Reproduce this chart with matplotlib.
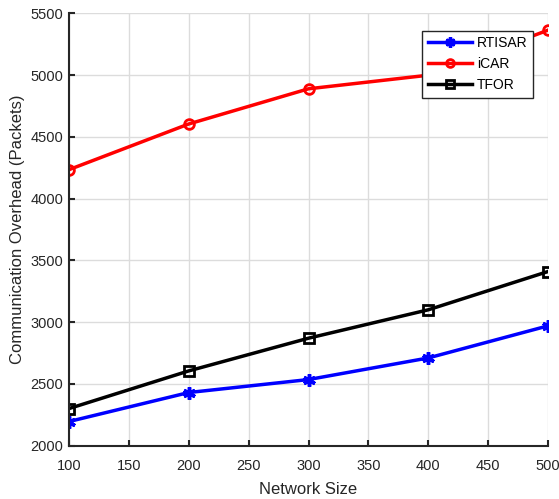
import matplotlib
matplotlib.use("Agg")
import matplotlib.pyplot as plt

# network sizes and overhead
network_size = [100, 200, 300, 400, 500]
rtisar = [2195, 2430, 2535, 2710, 2970]
icar = [4235, 4605, 4890, 5000, 5365]
tfor = [2300, 2605, 2870, 3100, 3410]

plt.rcParams['font.family'] = ['Liberation Sans', 'DejaVu Sans']

fig = plt.figure(figsize=(5.59, 4.99), dpi=100)
ax = fig.add_axes([0.1234, 0.107, 0.857, 0.866])

ax.plot(network_size, rtisar, color='blue', lw=2.5, marker=(6, 2, 0), ms=9, mew=2.5, label='RTISAR')
ax.plot(network_size, icar, color='red', lw=2.5, marker='o', ms=7, mew=2, mfc='none', label='iCAR')
ax.plot(network_size, tfor, color='black', lw=2.5, marker='s', ms=7, mew=2, mfc='none', label='TFOR')

ax.set_xlim(100, 500)
ax.set_ylim(2000, 5500)
ax.set_xticks(range(100, 501, 50))
ax.set_yticks(range(2000, 5501, 500))
ax.grid(True, color='#dcdcdc', lw=1)
ax.set_axisbelow(True)
for s in ['top', 'right']:
    ax.spines[s].set_visible(False)
for s in ['left', 'bottom']:
    ax.spines[s].set_linewidth(1.5)
    ax.spines[s].set_color('#262626')
ax.tick_params(direction='in', length=4, width=1.5, labelsize=10.5, colors='#262626')
ax.tick_params(axis='x', pad=10)
ax.tick_params(axis='y', pad=4)

ax.set_xlabel('Network Size', fontsize=12, color='#262626', labelpad=6)
ax.set_ylabel('Communication Overhead (Packets)', fontsize=12, color='#262626')

leg = ax.legend(loc='upper right', bbox_to_anchor=(0.969, 0.96), borderaxespad=0, fontsize=10,
                frameon=True, fancybox=False, edgecolor='#262626', handlelength=3.2, borderpad=0.4,
                labelspacing=0.5, handletextpad=0.35, markerscale=0.8)
leg.get_frame().set_linewidth(1)
leg.get_frame().set_alpha(1)

fig.savefig('out.png', dpi=100)
